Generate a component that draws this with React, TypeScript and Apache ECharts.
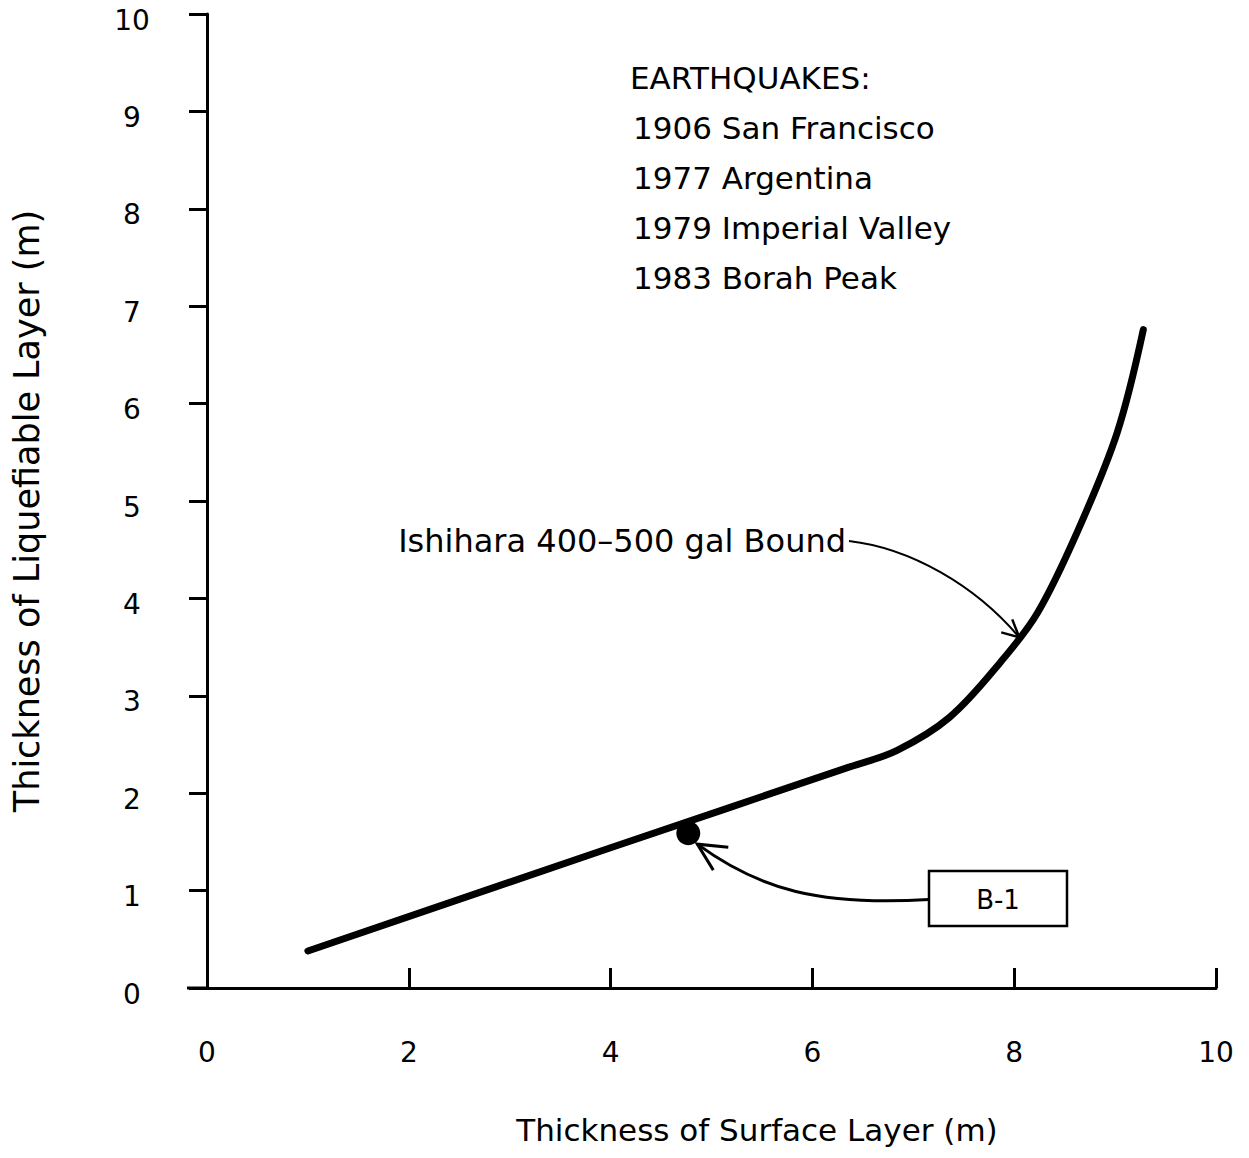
import React, { useEffect, useRef } from "react";
import * as echarts from "echarts";

const boundX = [1.0, 4.0, 6.37, 6.84, 7.36, 7.86, 8.23, 8.62, 9.02, 9.28];
const boundY = [0.38, 1.44, 2.27, 2.44, 2.78, 3.34, 3.85, 4.67, 5.7, 6.76];
const boreholeName = "B-1";
const boreholeX = 4.77;
const boreholeY = 1.59;
const earthquakes = [
  "EARTHQUAKES:",
  "1906 San Francisco",
  "1977 Argentina",
  "1979 Imperial Valley",
  "1983 Borah Peak",
];
const boundLabel = "Ishihara 400\u2013500 gal Bound";
const xName = "Thickness of Surface Layer (m)";
const yName = "Thickness of Liquefiable Layer (m)";

const FONT = "DejaVu Sans";

export default function App() {
  const ref = useRef<HTMLDivElement>(null);
  useEffect(() => {
    const chart = echarts.init(ref.current!, null, { renderer: "svg" });
    const option: any = {
      animation: false,
      backgroundColor: "#ffffff",
      grid: { left: 207, right: 33, top: 14, bottom: 170, containLabel: false },
      xAxis: {
        type: "value",
        min: 0,
        max: 10,
        interval: 2,
        name: xName,
        nameLocation: "middle",
        nameGap: 126,
        nameTextStyle: { fontFamily: FONT, fontSize: 31, color: "#000", padding: [0, 0, 0, 91] },
        axisLine: { show: true, lineStyle: { color: "#000", width: 3 } },
        axisTick: { show: true, inside: true, length: 20, lineStyle: { color: "#000", width: 3 } },
        axisLabel: { fontFamily: FONT, fontSize: 28, color: "#000", margin: 50 },
        splitLine: { show: false },
      },
      yAxis: {
        type: "value",
        min: 0,
        max: 10,
        interval: 1,
        name: yName,
        nameLocation: "middle",
        nameGap: 163,
        nameTextStyle: { fontFamily: FONT, fontSize: 35, color: "#000", padding: [0, 20, 0, 0] },
        axisLine: { show: true, lineStyle: { color: "#000", width: 3 } },
        axisTick: { show: true, inside: false, length: 18, lineStyle: { color: "#000", width: 3 } },
        axisLabel: {
          color: "#000",
          margin: 75,
          align: "center",
          verticalAlign: "middle",
          formatter: "{v|{value}}",
          rich: {
            v: { fontFamily: FONT, fontSize: 28, color: "#000", padding: [12, 0, 0, 0] },
          },
        },
        splitLine: { show: false },
      },
      series: [
        {
          type: "line",
          name: boundLabel,
          data: boundX.map((x, i) => [x, boundY[i]]),
          smooth: 0.35,
          showSymbol: false,
          lineStyle: { color: "#000", width: 7, cap: "round" },
          z: 3,
        },
        {
          type: "scatter",
          name: boreholeName,
          data: [[boreholeX, boreholeY]],
          symbolSize: 24,
          itemStyle: { color: "#000", opacity: 1 },
          z: 4,
        },
      ],
    };
    chart.setOption(option);

    const origin = chart.convertToPixel({ gridIndex: 0 }, [0, 0]) as number[];
    const tip1 = chart.convertToPixel({ gridIndex: 0 }, [8.05, 3.6]) as number[];
    const bp = chart.convertToPixel({ gridIndex: 0 }, [boreholeX, boreholeY]) as number[];
    const tip2 = [bp[0] + 9, bp[1] + 11];

    const boxX = 929, boxY = 871, boxW = 138, boxH = 55;
    const s1 = [849, 541];
    const s2 = [boxX, boxY + boxH / 2 + 1];

    const graphic: any[] = [
      ...earthquakes.map((t, i) => ({
        type: "text",
        left: i === 0 ? 630 : 633,
        top: 62 + i * 50,
        style: { text: t, fontFamily: FONT, fontSize: 31, fill: "#000" },
      })),
      {
        type: "text",
        x: 846,
        y: 541,
        style: {
          text: boundLabel,
          fontFamily: FONT,
          fontSize: 32,
          fill: "#000",
          align: "right",
          verticalAlign: "middle",
        },
      },
      {
        type: "bezierCurve",
        shape: {
          x1: s1[0], y1: s1[1],
          cpx1: 910, cpy1: 548,
          cpx2: 975, cpy2: 585,
          x2: tip1[0], y2: tip1[1],
        },
        style: { stroke: "#000", lineWidth: 2, fill: null },
      },
      {
        type: "polyline",
        shape: { points: [[tip1[0] - 18, tip1[1] - 5], [tip1[0], tip1[1]], [tip1[0] - 7, tip1[1] - 18]] },
        style: { stroke: "#000", lineWidth: 2.5, fill: null },
      },
      {
        type: "rect",
        shape: { x: boxX, y: boxY, width: boxW, height: boxH },
        style: { stroke: "#000", lineWidth: 2.5, fill: "#fff" },
      },
      {
        type: "text",
        x: boxX + boxW / 2,
        y: boxY + boxH / 2 + 1,
        style: {
          text: boreholeName,
          fontFamily: FONT,
          fontSize: 26,
          fill: "#000",
          align: "center",
          verticalAlign: "middle",
        },
      },
      {
        type: "bezierCurve",
        shape: {
          x1: s2[0], y1: s2[1],
          cpx1: 820, cpy1: 906,
          cpx2: 760, cpy2: 890,
          x2: tip2[0], y2: tip2[1],
        },
        style: { stroke: "#000", lineWidth: 3, fill: null },
      },
      {
        type: "polyline",
        shape: { points: [[tip2[0] + 31, tip2[1] + 3], [tip2[0], tip2[1]], [tip2[0] + 16, tip2[1] + 26]] },
        style: { stroke: "#000", lineWidth: 3, fill: null },
      },
      {
        type: "line",
        shape: { x1: origin[0] - 20, y1: origin[1], x2: origin[0], y2: origin[1] },
        style: { stroke: "#000", lineWidth: 3 },
      },
    ];
    chart.setOption({ graphic });

    return () => chart.dispose();
  }, []);
  return <div ref={ref} style={{ width: 1249, height: 1158, margin: -8 }} />;
}
